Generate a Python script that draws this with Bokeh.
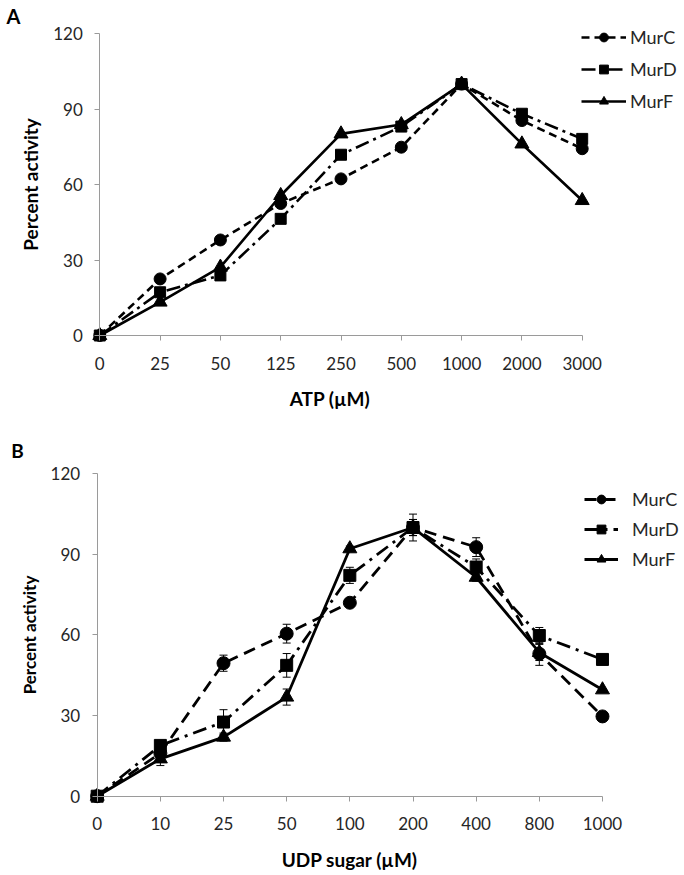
from bokeh.plotting import figure
from bokeh.layouts import column
from bokeh.models import (Range1d, FixedTicker, Legend, LegendItem, Label,
                          Whisker, TeeHead, ColumnDataSource)
from bokeh.embed import file_html
from bokeh.resources import INLINE

# ---------------- data ----------------
atp_labels = ["0", "25", "50", "125", "250", "500", "1000", "2000", "3000"]
atp_murc = [0, 22.5, 38, 52.5, 62.3, 74.9, 100, 85.5, 74.3]
atp_murd = [0, 17.2, 23.9, 46.4, 71.9, 83.1, 100, 88.2, 78.2]
atp_murf = [0, 13.3, 27.2, 55.7, 80.2, 83.9, 100, 76.2, 53.7]

udp_labels = ["0", "10", "25", "50", "100", "200", "400", "800", "1000"]
udp_murc = [0, 16, 49.5, 60.5, 72, 100, 92.7, 53, 29.7]
udp_murd = [0, 18.9, 27.6, 48.7, 82.2, 100, 85.3, 59.8, 50.9]
udp_murf = [0, 13.9, 22, 36.9, 92.1, 100, 81.5, 53.5, 39.6]
udp_murc_err = [0, 1.5, 3, 3.5, 1.5, 3, 3.5, 4.3, 0]
udp_murd_err = [0, 1, 4.6, 4.4, 3, 5, 3, 3, 0]
udp_murf_err = [0, 2.5, 1.5, 3, 1, 3, 1.5, 3, 0]

y_ticks = [0, 30, 60, 90, 120]
series_names = ["MurC", "MurD", "MurF"]

FONT = "Lato"
TICK_COLOR = "#262626"
AXIS_COLOR = "#9a9a9a"


def style_axes(p, labels, tick_size, ytitle, ytitle_size, ystandoff):
    xa = p.xaxis[0]
    ya = p.yaxis[0]
    xa.ticker = FixedTicker(ticks=list(range(len(labels))))
    xa.major_label_overrides = {i: s for i, s in enumerate(labels)}
    ya.ticker = FixedTicker(ticks=y_ticks)
    for ax in (xa, ya):
        ax.fixed_location = 0
        ax.axis_line_color = AXIS_COLOR
        ax.axis_line_width = 1
        ax.major_tick_line_color = AXIS_COLOR
        ax.major_tick_in = 0
        ax.major_tick_out = 5
        ax.minor_tick_line_color = None
        ax.major_label_text_font = FONT
        ax.major_label_text_font_size = tick_size
        ax.major_label_text_color = TICK_COLOR
    ya.major_label_standoff = 12
    xa.major_label_standoff = 16
    xa.bounds = (0, len(labels) - 1)
    ya.bounds = (0, 120)
    ya.axis_label = ytitle
    ya.axis_label_text_font = FONT
    ya.axis_label_text_font_style = "bold"
    ya.axis_label_text_font_size = ytitle_size
    ya.axis_label_text_color = "black"
    ya.axis_label_standoff = ystandoff
    p.xgrid.visible = False
    p.ygrid.visible = False
    p.outline_line_color = None


def add_series(p, ys, dashes, lw, sizes, errs=None):
    items = []
    markers = ["circle", "square", "triangle"]
    n = len(ys[0])
    for k in range(3):
        src = ColumnDataSource(dict(x=list(range(n)), y=ys[k]))
        if errs is not None:
            up = [a + b for a, b in zip(ys[k], errs[k])]
            lo = [a - b for a, b in zip(ys[k], errs[k])]
            wsrc = ColumnDataSource(dict(x=list(range(n)), up=up, lo=lo))
            w = Whisker(base="x", upper="up", lower="lo", source=wsrc,
                        line_color="black", line_width=1,
                        upper_head=TeeHead(size=8, line_width=1, line_color="black"),
                        lower_head=TeeHead(size=8, line_width=1, line_color="black"))
            p.add_layout(w)
        lr = p.line("x", "y", source=src, line_color="black", line_width=lw,
                    line_dash=dashes[k])
        sr = p.scatter("x", "y", source=src, marker=markers[k], size=sizes[k],
                       fill_color="black", line_color="black")
        items.append(LegendItem(label=series_names[k], renderers=[lr, sr]))
    return items


def base_fig(h, x0, px, y0, py):
    # frame covers whole canvas; x0/y0 = pixel position of the data origin
    return figure(width=684, height=h, output_backend="svg", toolbar_location=None,
                  x_range=Range1d(-x0 / px, (684 - x0) / px),
                  y_range=Range1d(-(h - y0) / py, y0 / py),
                  min_border_left=0, min_border_right=0, min_border_top=0,
                  min_border_bottom=0)


# ---------------- panel A ----------------
pxA, pyA = 60.3, 2.514
pA = base_fig(420, 99.3, pxA, 335, pyA)
style_axes(pA, atp_labels, "17px", "Percent activity", "19px", 8)
itemsA = add_series(pA, [atp_murc, atp_murd, atp_murf],
                    ["8 5", "14 5 3 5", "solid"], 2.6, [12, 11, 14])
legA = Legend(items=itemsA, location=(581, 308), padding=0, margin=0,
              spacing=10, glyph_width=45, glyph_height=22, label_height=22,
              label_standoff=4, label_text_font=FONT, label_text_font_size="18px",
              label_text_color=TICK_COLOR, border_line_alpha=0,
              background_fill_alpha=0)
pA.add_layout(legA)
pA.add_layout(Label(x=4, x_offset=-11, y=(335 - 398) / pyA, text="ATP (\u00b5M)",
                    text_align="center", text_baseline="middle", text_font=FONT,
                    text_font_style="bold", text_font_size="19px", text_color="black"))
pA.add_layout(Label(x=(13 - 99.3) / pxA, y=(335 - 15) / pyA, text="A",
                    text_align="center", text_baseline="middle", text_font=FONT,
                    text_font_style="bold", text_font_size="20px", text_color="black"))

# ---------------- panel B ----------------
pxB, pyB = 63.16, 2.6867
pB = base_fig(455, 96.7, pxB, 375.7, pyB)
style_axes(pB, udp_labels, "17px", "Percent activity", "17px", 8)
itemsB = add_series(pB, [udp_murc, udp_murd, udp_murf],
                    ["12 7", "14 6 3 6", "solid"], 2.8, [13, 12, 14],
                    errs=[udp_murc_err, udp_murd_err, udp_murf_err])
legB = Legend(items=itemsB, location=(584, 305), padding=0, margin=0,
              spacing=8, glyph_width=34, glyph_height=22, label_height=22,
              label_standoff=14, label_text_font=FONT, label_text_font_size="18px",
              label_text_color=TICK_COLOR, border_line_alpha=0,
              background_fill_alpha=0)
pB.add_layout(legB)
pB.add_layout(Label(x=4, y=(375.7 - 439.3) / pyB, text="UDP sugar (\u00b5M)",
                    text_align="center", text_baseline="middle", text_font=FONT,
                    text_font_style="bold", text_font_size="19px", text_color="black"))
pB.add_layout(Label(x=(17 - 96.7) / pxB, y=(375.7 - 30) / pyB, text="B",
                    text_align="center", text_baseline="middle", text_font=FONT,
                    text_font_style="bold", text_font_size="19px", text_color="black"))

layout = column(pA, pB, spacing=0)
open("out.html", "w").write(file_html(layout, INLINE))
